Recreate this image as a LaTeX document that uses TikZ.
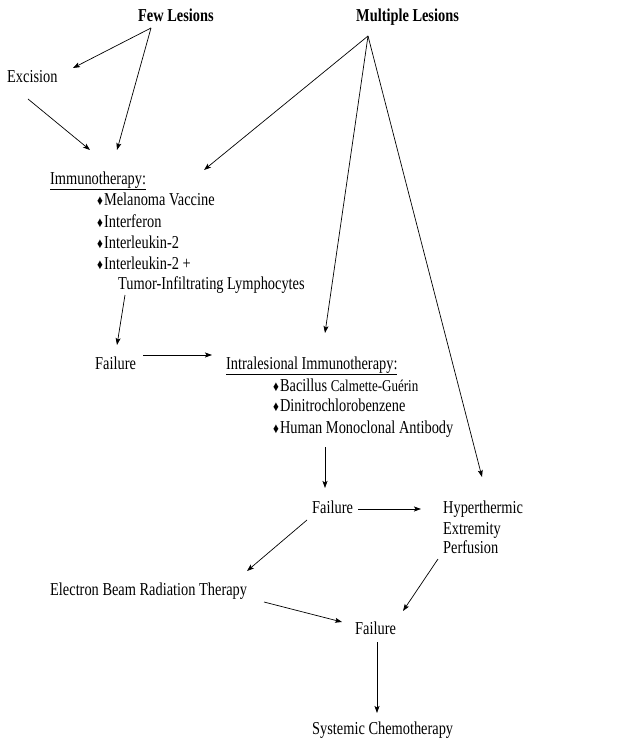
\documentclass[tikz,border=0pt]{standalone}
\usepackage{fontspec}
\setmainfont{Liberation Serif}[FakeStretch=0.79]
\usetikzlibrary{arrows.meta}
\newcommand{\dmd}{{\fontsize{14.5}{14}\selectfont ♦}}
\begin{document}
\begin{tikzpicture}[x=1pt,y=-1pt,
  txt/.style={inner sep=0pt, anchor=base west, font=\fontsize{18.2}{21}\selectfont},
  hd/.style={txt, font=\fontsize{18.2}{21}\selectfont\bfseries},
  arr/.style={-{Stealth[length=7pt,width=5pt,inset=1.5pt]}, line width=0.7pt}]
\useasboundingbox[fill=white] (0,0) rectangle (622,738);
% headings
\node[hd] (few) at (138,22) {Few Lesions};
\node[hd] (mult) at (356,22) {Multiple Lesions};
\node[txt] (exc) at (7,83) {Excision};
% immunotherapy
\node[txt] (imm) at (50,184) {\underline{Immunotherapy:}};
\node[txt] (imm1) at (97,205) {\dmd\hspace{1pt}Melanoma Vaccine};
\node[txt] (imm2) at (97,227) {\dmd\hspace{1pt}Interferon};
\node[txt] (imm3) at (97,248) {\dmd\hspace{1pt}Interleukin-2};
\node[txt] (imm4) at (97,269) {\dmd\hspace{1pt}Interleukin-2 +};
\node[txt] (imm5) at (118,289) {Tumor-Infiltrating Lymphocytes};
% failure 1 and intralesional
\node[txt] (f1) at (95,369) {Failure};
\node[txt] (il) at (226,369) {\underline{Intralesional Immunotherapy:}};
\node[txt] (il1) at (273,391) {\dmd\hspace{1pt}Bacillus {\fontsize{16.5}{18}\selectfont Calmette-Guérin}};
\node[txt] (il2) at (273,411) {\dmd\hspace{1pt}Dinitrochlorobenzene};
\node[txt] (il3) at (273,433) {\dmd\hspace{1pt}Human Monoclonal Antibody};
% failure 2 and perfusion
\node[txt] (f2) at (312,513) {Failure};
\node[txt] (hy1) at (443,513) {Hyperthermic};
\node[txt] (hy2) at (443,534) {Extremity};
\node[txt] (hy3) at (443,553) {Perfusion};
\node[txt] (ebrt) at (50,595) {Electron Beam Radiation Therapy};
\node[txt] (f3) at (355,634) {Failure};
\node[txt] (sys) at (312,734) {Systemic Chemotherapy};
% connector end points
\coordinate (fewapex) at (151,28);
\coordinate (multapex) at (368,36);
\coordinate (excin) at (73,68);
\coordinate (excout) at (28,99);
\coordinate (immin1) at (90,150);
\coordinate (immin2) at (117,150);
\coordinate (immin3) at (204,170);
\coordinate (immout) at (125,295);
\coordinate (f1in) at (117,345);
\coordinate (f1out) at (143,355);
\coordinate (ilin1) at (212,355);
\coordinate (ilin2) at (325,333);
\coordinate (ilout) at (325,447);
\coordinate (f2in) at (325,488);
\coordinate (f2out) at (358,509);
\coordinate (f2outb) at (307,520);
\coordinate (hyin1) at (421,509);
\coordinate (hyin2) at (482,477);
\coordinate (hyout) at (438,559);
\coordinate (ebrtin) at (247,571);
\coordinate (ebrtout) at (264,602);
\coordinate (f3in1) at (342,622);
\coordinate (f3in2) at (403,611);
\coordinate (f3out) at (377,642);
\coordinate (sysin) at (377,713);
% connectors
\draw[arr] (fewapex) -- (excin);
\draw[arr] (fewapex) -- (immin2);
\draw[arr] (excout) -- (immin1);
\draw[arr] (multapex) -- (immin3);
\draw[arr] (multapex) -- (ilin2);
\draw[arr] (multapex) -- (hyin2);
\draw[arr] (immout) -- (f1in);
\draw[arr] (f1out) -- (ilin1);
\draw[arr] (ilout) -- (f2in);
\draw[arr] (f2out) -- (hyin1);
\draw[arr] (f2outb) -- (ebrtin);
\draw[arr] (ebrtout) -- (f3in1);
\draw[arr] (hyout) -- (f3in2);
\draw[arr] (f3out) -- (sysin);
\end{tikzpicture}
\end{document}
